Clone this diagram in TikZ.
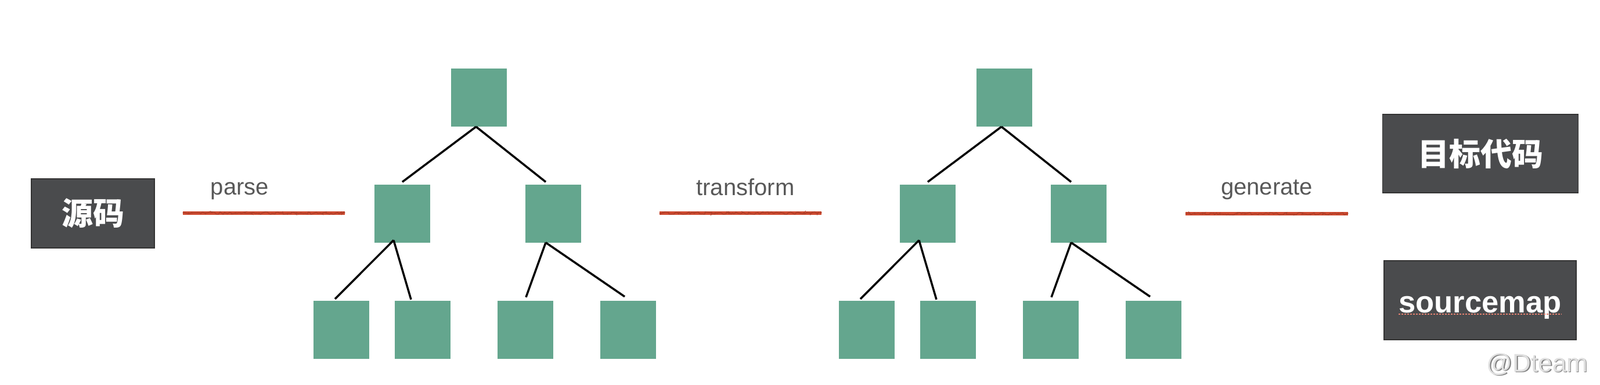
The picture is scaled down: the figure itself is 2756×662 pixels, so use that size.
\documentclass[tikz,border=0pt]{standalone}
\usepackage{fontspec}
\setmainfont{Liberation Sans}
\newfontfamily\cjk{Noto Sans CJK SC}
\usetikzlibrary{decorations.pathmorphing}
\definecolor{treegreen}{RGB}{100,166,142}
\definecolor{darkfill}{RGB}{74,75,77}
\definecolor{labelgray}{RGB}{88,88,88}
\definecolor{redpen}{RGB}{206,74,48}
\definecolor{spellred}{RGB}{226,128,112}
\tikzset{
  treebox/.style={fill=treegreen, minimum width=96pt, minimum height=100pt, inner sep=0pt},
  treeedge/.style={line width=3.5pt, draw=black},
  darkbox/.style={fill=darkfill, draw=black!80, line width=1.2pt, inner sep=0pt, text=white},
  stage/.style={text=labelgray, font=\fontsize{40}{48}\selectfont, anchor=base, inner sep=0pt},
  redline/.style={line width=6pt, draw=redpen},
  redfuzz/.style={line width=1.5pt, draw=redpen!85!black, decorate, decoration={random steps, segment length=2.5pt, amplitude=2.2pt}},
}
\newcommand\mytree[2]{%
  \begin{scope}[xshift=#2pt]
    \node[treebox] (#1root) at (825,168) {};
    \node[treebox] (#1ml) at (693,367.5) {};
    \node[treebox] (#1mr) at (953,367.5) {};
    \node[treebox] (#1la) at (588,568) {};
    \node[treebox] (#1lb) at (728,568) {};
    \node[treebox] (#1lc) at (905,568) {};
    \node[treebox] (#1ld) at (1082,568) {};
  \end{scope}
  \draw[treeedge] ([xshift=-5pt]#1root.south) -- ([yshift=4pt]#1ml.north);
  \draw[treeedge] ([xshift=-5pt]#1root.south) -- ([xshift=-13pt,yshift=4pt]#1mr.north);
  \draw[treeedge] ([xshift=-15pt,yshift=4pt]#1ml.south) -- ([xshift=-11pt,yshift=3pt]#1la.north);
  \draw[treeedge] ([xshift=-15pt,yshift=4pt]#1ml.south) -- ([xshift=-20pt,yshift=2pt]#1lb.north);
  \draw[treeedge] ([xshift=-13pt]#1mr.south) -- ([xshift=1pt,yshift=6pt]#1lc.north);
  \draw[treeedge] ([xshift=-13pt]#1mr.south) -- ([xshift=-6pt,yshift=7pt]#1ld.north);
}
\begin{document}
\begin{tikzpicture}[x=1pt,y=-1pt]
  \path[use as bounding box, fill=white] (0,0) rectangle (2756,662);

  % source box
  \node[darkbox, minimum width=212pt, minimum height=119pt,
        font=\cjk\bfseries\fontsize{54}{60}\selectfont] (src) at (160,367.5) {源码};

  % trees
  \mytree{a}{0}
  \mytree{b}{905}

  % stage labels
  \node[stage] (parse) at (413,335) {parse};
  \node[stage] (transform) at (1284,336) {transform};
  \node[stage] (generate) at (2182,335) {generate};

  % red pen lines
  \coordinate (pa) at (315,367);  \coordinate (pb) at (594,367);
  \coordinate (ta) at (1136,367); \coordinate (tb) at (1415,367);
  \coordinate (ga) at (2042,368); \coordinate (gb) at (2322,368);
  \foreach \s/\e in {pa/pb, ta/tb, ga/gb}{
    \draw[redline] (\s) -- (\e);
    \draw[redfuzz] (\s) -- (\e);
  }

  % target boxes
  \node[darkbox, minimum width=337pt, minimum height=135pt,
        font=\cjk\bfseries\fontsize{54}{60}\selectfont] (tgt) at (2550,264.5) {目标代码};
  \node[darkbox, minimum width=331pt, minimum height=136pt] (smap) at (2549.5,517) {};
  \node[anchor=base, inner sep=0pt, text=white,
        font=\bfseries\fontsize{52.5}{60}\selectfont] (smapt) at ([yshift=-21pt]smap.center) {sourcemap};
  \draw[spellred, line width=2.2pt, dash pattern=on 2.5pt off 2.5pt]
    ([yshift=-3pt]smapt.base west) -- ([yshift=-3pt]smapt.base east);

  % watermark
  \node[anchor=base, inner sep=0pt, text=black!50,
        font=\fontsize{44}{50}\selectfont] (wm0) at (2649.5,641.5) {@Dteam};
  \node[anchor=base, inner sep=0pt, text=black!12,
        font=\fontsize{44}{50}\selectfont] (wm) at (2648,640) {@Dteam};
\end{tikzpicture}
\end{document}
